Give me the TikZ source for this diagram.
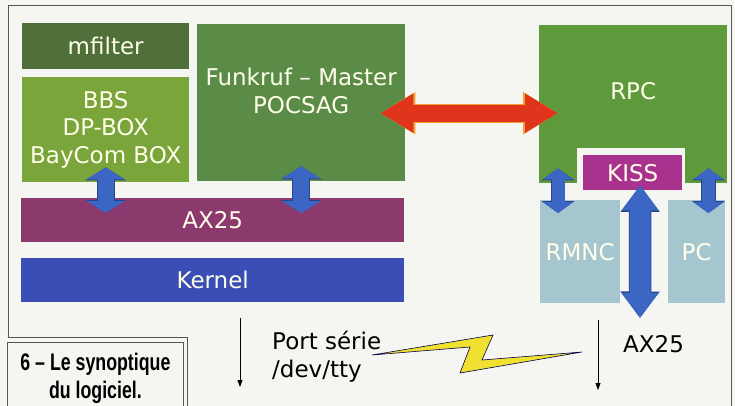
\documentclass[tikz,border=0pt]{standalone}
\usepackage{fontspec}
\usetikzlibrary{arrows.meta}
\newfontfamily\boxfont{DejaVu Sans}
\newfontfamily\capfont[FakeStretch=0.74]{Liberation Sans Bold}
\definecolor{paper}{HTML}{F5F5F2}
\definecolor{filtgreen}{HTML}{4F7038}
\definecolor{bbsgreen}{HTML}{7AA53A}
\definecolor{funkgreen}{HTML}{5B8C47}
\definecolor{rpcgreen}{HTML}{5E9A3C}
\definecolor{axpurple}{HTML}{8C3A6E}
\definecolor{kernblue}{HTML}{3A4EB5}
\definecolor{kissmag}{HTML}{A8328E}
\definecolor{nodegrey}{HTML}{A6C6CF}
\definecolor{arrowblue}{HTML}{3C66C4}
\definecolor{arrowdark}{HTML}{2A4490}
\definecolor{arrowred}{HTML}{E0351C}
\definecolor{arroworange}{HTML}{F2A030}
\definecolor{boltyellow}{HTML}{F0E030}
\definecolor{framegrey}{HTML}{555555}

\begin{document}
\begin{tikzpicture}[x=1pt,y=-1pt,
  block/.style={anchor=north west, inner sep=0pt, align=center, text=white!92!yellow,
    font=\boxfont\fontsize{23}{27.5}\selectfont},
  plaintext/.style={inner sep=0pt, align=left, font=\boxfont\fontsize{23}{27.5}\selectfont},
  updown/.style={draw=arrowblue, line width=16pt,
    {Triangle[width=38pt,length=12pt]}-{Triangle[width=38pt,length=12pt]},
    preaction={draw=arrowdark, line width=17.6pt,
      {Triangle[width=40.5pt,length=13pt]}-{Triangle[width=40.5pt,length=13pt]}}},
  updownsmall/.style={draw=arrowblue, line width=13pt,
    {Triangle[width=30pt,length=11pt]}-{Triangle[width=30pt,length=11pt]},
    preaction={draw=arrowdark, line width=14.6pt,
      {Triangle[width=32.5pt,length=12pt]}-{Triangle[width=32.5pt,length=12pt]}}},
  kissarrow/.style={draw=arrowblue, line width=21pt,
    {Triangle[width=35pt,length=25pt]}-{Triangle[width=35pt,length=25pt]},
    preaction={draw=arrowdark, line width=22.6pt,
      {Triangle[width=37.5pt,length=26.5pt]}-{Triangle[width=37.5pt,length=26.5pt]}}},
  redarrow/.style={draw=arrowred, line width=17pt,
    {Triangle[width=37pt,length=33pt]}-{Triangle[width=37pt,length=33pt]},
    preaction={draw=arroworange, line width=19pt,
      {Triangle[width=40pt,length=35pt]}-{Triangle[width=40pt,length=35pt]}}},
  thinarrow/.style={draw=black, line width=0.8pt, -{Triangle[width=5pt,length=7pt]}}
]
  % Paper and frame first
  \useasboundingbox (0,0) rectangle (735,406);
  \fill[paper] (0,0) rectangle (735,406);
  \draw[framegrey, line width=1pt] (8,337) -- (8,6) -- (731,6) -- (731,406);
  \draw[framegrey, line width=1pt] (8,337) -- (187,337) -- (187,406);

  % Left stack
  \node[block, fill=filtgreen, minimum width=167pt, minimum height=46pt] (mfilter) at (22,23) {mfilter};
  \node[block, fill=bbsgreen, minimum width=167pt, minimum height=105pt] (bbs) at (22,77) {BBS\\DP-BOX\\BayCom BOX};
  \node[block, fill=funkgreen, minimum width=208pt, minimum height=157pt, text depth=24pt] (funk) at (197,24) {Funkruf – Master\\POCSAG};
  \node[block, fill=axpurple, minimum width=383pt, minimum height=44pt] (ax) at (21,198) {AX25};
  \node[block, fill=kernblue, minimum width=383pt, minimum height=44pt] (kernel) at (21,258) {Kernel};

  % Right stack
  \node[block, fill=rpcgreen, minimum width=188pt, minimum height=158pt, text depth=26pt] (rpc) at (539,25) {RPC};
  \fill[paper] (577,148) rectangle (685,184);
  \node[block, fill=kissmag, minimum width=99pt, minimum height=35pt] (kiss) at (583,155) {KISS};
  \node[block, fill=nodegrey, minimum width=80pt, minimum height=103pt] (rmnc) at (540,200) {RMNC};
  \node[block, fill=nodegrey, minimum width=57pt, minimum height=103pt] (pc) at (668,200) {PC};

  % Block arrows
  \draw[updown, shorten <=-15pt, shorten >=-15pt] (bbs.south) -- (bbs.south |- ax.north);
  \draw[updown, shorten <=-15pt, shorten >=-15pt] (funk.south) -- (funk.south |- ax.north);
  \draw[redarrow] ([xshift=-25pt,yshift=-10.5pt]funk.east) -- ([xshift=19pt,yshift=-9pt]rpc.west);
  \draw[updownsmall] ([xshift=19pt,yshift=15pt]rpc.south west) -- ([xshift=18pt,yshift=-13pt]rmnc.north west);
  \draw[updownsmall] ([xshift=-19pt,yshift=15pt]rpc.south east) -- ([xshift=-17pt,yshift=-13pt]pc.north east);
  \coordinate (radio) at (640,318);
  \draw[kissarrow] ([xshift=7.5pt,yshift=5pt]kiss.south) -- (radio);

  % Outputs
  \coordinate (serialtop) at (240,318);
  \coordinate (serialend) at (240,387);
  \coordinate (radiotop) at (598,320);
  \coordinate (radioend) at (598,390);
  \draw[thinarrow] (serialtop) -- (serialend);
  \draw[thinarrow] (radiotop) -- (radioend);
  \node[plaintext, anchor=north west] (port) at (272,331) {Port série\\/dev/tty};
  \node[plaintext, anchor=base west] (axout) at (623,352) {AX25};
  \filldraw[fill=boltyellow, draw=black!70!blue, line width=0.6pt]
    (372,355) -- (493,335) -- (482,360) -- (582,352) -- (460,373) -- (470,347) -- cycle;

  % Caption
  \node[draw=framegrey, line width=0.8pt, minimum width=176pt, minimum height=64pt, anchor=north west,
    inner sep=0pt, align=center, text height=49pt, text depth=0pt, font=\capfont\fontsize{24}{28}\selectfont] (caption) at (7,342)
    {6 – Le synoptique\\du logiciel.};
\end{tikzpicture}
\end{document}
